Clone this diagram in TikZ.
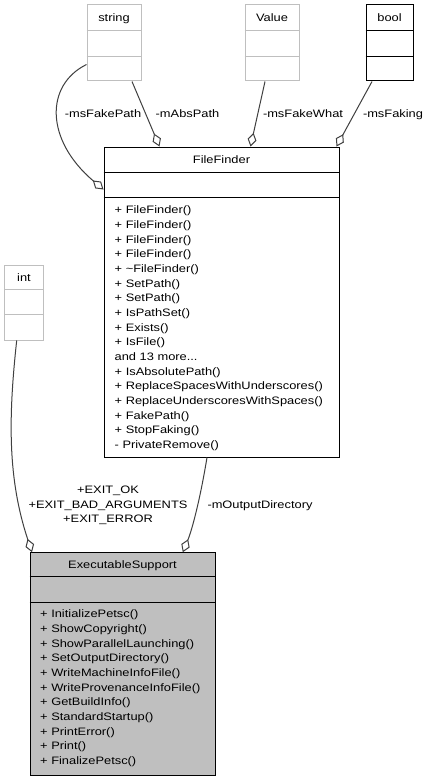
\documentclass[tikz,border=0pt]{standalone}
\usepackage{fontspec}
\setmainfont{Liberation Sans}[FakeStretch=1.19]
\usetikzlibrary{arrows.meta}
\definecolor{edgec}{HTML}{404040}
\definecolor{greyb}{HTML}{BFBFBF}
\newcommand\fsz{\fontsize{10.8}{14.67}\selectfont}
\begin{document}
\begin{tikzpicture}[x=1pt,y=-1pt,
  classbox/.style={draw=black, line width=1pt, inner sep=0pt},
  ghostbox/.style={classbox, draw=greyb},
  mainbox/.style={classbox, fill=greyb},
  divider/.style={line width=1pt},
  title/.style={anchor=base, inner sep=0pt, font=\fsz},
  members/.style={anchor=north west, inner sep=0pt, align=left, font=\fsz},
  elabel/.style={anchor=base, inner sep=0pt, font=\fsz},
  assoc/.style={draw=edgec, line width=1pt, -{Diamond[open,length=14pt,width=9pt]}}]
\useasboundingbox[fill=white] (0,0) rectangle (429,781);

% ---- boxes
\node[ghostbox, minimum width=54pt, minimum height=76pt] (str) at (114,43) {};
\draw[greyb,divider] ([yshift=-26pt]str.north west) -- ([yshift=-26pt]str.north east);
\draw[greyb,divider] ([yshift=-52pt]str.north west) -- ([yshift=-52pt]str.north east);
\node[title] (strt) at (114,22) {string};

\node[ghostbox, minimum width=54pt, minimum height=76pt] (val) at (272,43) {};
\draw[greyb,divider] ([yshift=-26pt]val.north west) -- ([yshift=-26pt]val.north east);
\draw[greyb,divider] ([yshift=-52pt]val.north west) -- ([yshift=-52pt]val.north east);
\node[title] (valt) at (272,22) {Value};

\node[classbox, minimum width=47pt, minimum height=76pt] (bool) at (389.5,43) {};
\draw[divider] ([yshift=-26pt]bool.north west) -- ([yshift=-26pt]bool.north east);
\draw[divider] ([yshift=-52pt]bool.north west) -- ([yshift=-52pt]bool.north east);
\node[title] (boolt) at (389.5,22) {bool};

\node[ghostbox, minimum width=38.6pt, minimum height=75pt] (int) at (24,302.5) {};
\draw[greyb,divider] ([yshift=-25pt]int.north west) -- ([yshift=-25pt]int.north east);
\draw[greyb,divider] ([yshift=-50pt]int.north west) -- ([yshift=-50pt]int.north east);
\node[title] (intt) at (24,281.5) {int};

\node[classbox, minimum width=235pt, minimum height=310pt] (ff) at (221.5,302) {};
\draw[divider] ([yshift=-26pt]ff.north west) -- ([yshift=-26pt]ff.north east);
\draw[divider] ([yshift=-51pt]ff.north west) -- ([yshift=-51pt]ff.north east);
\node[title] (fft) at (221.5,163) {FileFinder};
\node[members] (ffm) at (114.5,203.7) {\rule{0pt}{10pt}+ FileFinder()\\
+ FileFinder()\\
+ FileFinder()\\
+ FileFinder()\\
+ \textasciitilde FileFinder()\\
+ SetPath()\\
+ SetPath()\\
+ IsPathSet()\\
+ Exists()\\
+ IsFile()\\
and 13 more...\\
+ IsAbsolutePath()\\
+ ReplaceSpacesWithUnderscores()\\
+ ReplaceUnderscoresWithSpaces()\\
+ FakePath()\\
+ StopFaking()\\
- PrivateRemove()};

\node[mainbox, minimum width=185pt, minimum height=222.3pt] (es) at (122.5,663.85) {};
\draw[divider] ([yshift=-24.6pt]es.north west) -- ([yshift=-24.6pt]es.north east);
\draw[divider] ([yshift=-50pt]es.north west) -- ([yshift=-50pt]es.north east);
\node[title] (est) at (122.5,568.5) {ExecutableSupport};
\node[members] (esm) at (40,607.5) {\rule{0pt}{10pt}+ InitializePetsc()\\
+ ShowCopyright()\\
+ ShowParallelLaunching()\\
+ SetOutputDirectory()\\
+ WriteMachineInfoFile()\\
+ WriteProvenanceInfoFile()\\
+ GetBuildInfo()\\
+ StandardStartup()\\
+ PrintError()\\
+ Print()\\
+ FinalizePetsc()};

% ---- connectors
\draw[assoc] ([yshift=17pt]str.south west) .. controls (45,85) and (45,140) .. ([yshift=-43pt]ff.north west);
\draw[assoc] ([xshift=18pt]str.south) -- ([xshift=56pt]ff.north west);
\draw[assoc] ([xshift=-7pt]val.south) -- ([xshift=147pt]ff.north west);
\draw[assoc] ([xshift=-17.5pt]bool.south) -- ([xshift=-3pt]ff.north east);
\draw[assoc] ([xshift=-7.3pt]int.south) .. controls (8,420) and (8,480) .. ([xshift=2.5pt]es.north west);
\draw[assoc] ([xshift=-14.5pt]ff.south) .. controls (200,500) and (192,530) .. ([xshift=153.3pt]es.north west);

% ---- labels
\node[elabel] (l1) at (103,117.5) {-msFakePath};
\node[elabel] (l2) at (187.5,117.5) {-mAbsPath};
\node[elabel] (l3) at (303,117.5) {-msFakeWhat};
\node[elabel] (l4) at (393,117.5) {-msFaking};
\node[inner sep=0pt, align=center, font=\fsz] (l5) at (108,505.6) {+EXIT\_OK\\+EXIT\_BAD\_ARGUMENTS\\+EXIT\_ERROR};
\node[elabel] (l6) at (260,508.5) {-mOutputDirectory};
\end{tikzpicture}
\end{document}
